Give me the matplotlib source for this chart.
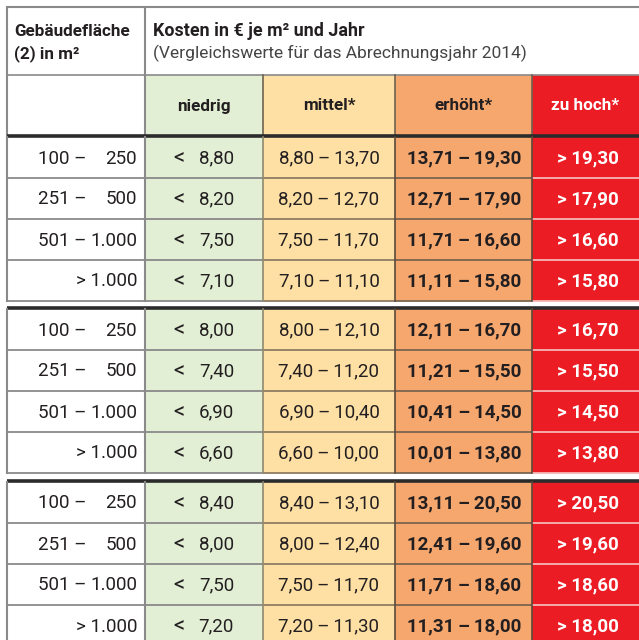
import matplotlib
matplotlib.use("Agg")
import matplotlib.pyplot as plt
from matplotlib.patches import Rectangle

# ---------------- data ----------------
area_left = ["100 –", "251 –", "501 –", ""]
area_right = ["250", "500", "1.000", "> 1.000"]
# upper bounds of "niedrig", "mittel", "erhöht" per group (3 groups x 4 size classes)
niedrig_max = [[8.80, 8.20, 7.50, 7.10],
               [8.00, 7.40, 6.90, 6.60],
               [8.40, 8.00, 7.50, 7.20]]
mittel_max = [[13.70, 12.70, 11.70, 11.10],
              [12.10, 11.20, 10.40, 10.00],
              [13.10, 12.40, 11.70, 11.30]]
erhoeht_max = [[19.30, 17.90, 16.60, 15.80],
               [16.70, 15.50, 14.50, 13.80],
               [20.50, 19.60, 18.60, 18.00]]
categories = ["niedrig", "mittel*", "erhöht*", "zu hoch*"]
col_header = ["Gebäudefläche", "(2) in m²"]
title = "Kosten in € je m² und Jahr"
subtitle = "(Vergleichswerte für das Abrechnungsjahr 2014)"

# ---------------- style ----------------
FONT = "Roboto"
TXT = "#231f20"
cat_colors = ["#e2efd5", "#fee0a4", "#f6a76e", "#ec1c24"]
cat_text = [TXT, TXT, TXT, "white"]
hline_colors = ["#8a8a8a", "#8a8a8a", "#8f7c62", "#7a6550", "#f7b5b5"]
NUM_FS = 13.5
HEAD_FS = 12.3
TS = "\u2009"  # thin space

def fmt(v):
    return f"{v:.2f}".replace(".", ",")

fig = plt.figure(figsize=(6.39, 6.40), dpi=100)
ax = fig.add_axes([0, 0, 1, 1])
ax.set_xlim(0, 639)
ax.set_ylim(640, 0)
ax.axis("off")

# layout (pixels)
xe = [7, 145, 263, 395, 532, 660]
top, h1, h2 = 7, 75, 135
row_h = 41
group_tops = [137, 309, 482]

# header lines
ax.plot([xe[0], 639], [top, top], color="#8a8a8a", lw=1.5, solid_capstyle="butt")
ax.plot([xe[0], 639], [h1, h1], color="#8a8a8a", lw=1.2)
# header colored cells
for j, c in enumerate(categories):
    ax.add_patch(Rectangle((xe[j + 1], h1), xe[j + 2] - xe[j + 1], h2 - h1,
                           facecolor=cat_colors[j], edgecolor="none"))
    xc = (xe[j + 1] + xe[j + 2]) / 2 if j < 3 else 585
    ax.text(xc, (h1 + h2) / 2 + 1, c,
            ha="center", va="center", fontsize=HEAD_FS, fontweight="bold",
            color=cat_text[j], family=FONT)
# header texts
ax.text(14, 31, col_header[0], ha="left", va="center", fontsize=HEAD_FS,
        fontweight="bold", color=TXT, family=FONT)
ax.text(14, 54, col_header[1], ha="left", va="center", fontsize=HEAD_FS,
        fontweight="bold", color=TXT, family=FONT)
ax.text(153, 31, title, ha="left", va="center", fontsize=12.9,
        fontweight="bold", color=TXT, family=FONT)
ax.text(153, 53, subtitle, ha="left", va="center", fontsize=12.5,
        fontweight="normal", color="#444444", family=FONT)

# vertical header lines
ax.plot([xe[0], xe[0]], [top, h2], color="#8a8a8a", lw=1.5)
ax.plot([xe[1], xe[1]], [top, h2], color="#8a8a8a", lw=1.5)
for k in (2, 3, 4):
    ax.plot([xe[k], xe[k]], [h1, h2], color="#6e6250", lw=1.2)

bg = ["white"] + cat_colors
for g, gt in enumerate(group_tops):
    gb = gt + 4 * row_h
    # cells
    for j in range(5):
        ax.add_patch(Rectangle((xe[j], gt), xe[j + 1] - xe[j], gb - gt,
                               facecolor=bg[j], edgecolor="none"))
    # row separators
    for r in range(1, 5):
        y = gt + r * row_h
        for j in range(5):
            ax.plot([xe[j], xe[j + 1]], [y, y], color=hline_colors[j], lw=1.3,
                    solid_capstyle="butt")
    # thick top line
    ax.plot([xe[0], 639], [gt - 1.5, gt - 1.5], color="#2b2b2b", lw=2.6,
            solid_capstyle="butt")
    # verticals
    ax.plot([xe[0], xe[0]], [gt, gb], color="#8a8a8a", lw=1.5)
    ax.plot([xe[1], xe[1]], [gt, gb], color="#8a8a8a", lw=1.5)
    ax.plot([xe[2], xe[2]], [gt, gb], color="#8f8a70", lw=1.2)
    ax.plot([xe[3], xe[3]], [gt, gb], color="#5a4a3a", lw=1.2)
    ax.plot([xe[4], xe[4]], [gt, gb], color="#5a4a3a", lw=1.2)
    # texts
    for r in range(4):
        yc = gt + r * row_h + row_h / 2 + 1
        if area_left[r]:
            ax.text(86, yc, area_left[r], ha="right", va="center", fontsize=NUM_FS,
                    color=TXT, family=FONT)
        ax.text(137, yc, area_right[r], ha="right", va="center", fontsize=NUM_FS,
                color=TXT, family=FONT)
        ax.text(184, yc, "<", ha="right", va="center",
                fontsize=NUM_FS + 2.5, color=TXT, family=FONT)
        ax.text(234, yc, fmt(niedrig_max[g][r]), ha="right", va="center",
                fontsize=NUM_FS, color=TXT, family=FONT)
        ax.text(329, yc, fmt(niedrig_max[g][r]) + TS + "–" + TS + fmt(mittel_max[g][r]),
                ha="center", va="center", fontsize=NUM_FS,
                color=TXT, family=FONT)
        ax.text(464, yc, fmt(mittel_max[g][r] + 0.01) + TS + "–" + TS + fmt(erhoeht_max[g][r]),
                ha="center", va="center", fontsize=NUM_FS, fontweight="bold",
                color=TXT, family=FONT)
        ax.text(588, yc, "> " + fmt(erhoeht_max[g][r]), ha="center", va="center",
                fontsize=NUM_FS, fontweight="bold", color="white", family=FONT)

fig.savefig("out.png", dpi=100, facecolor="white")
